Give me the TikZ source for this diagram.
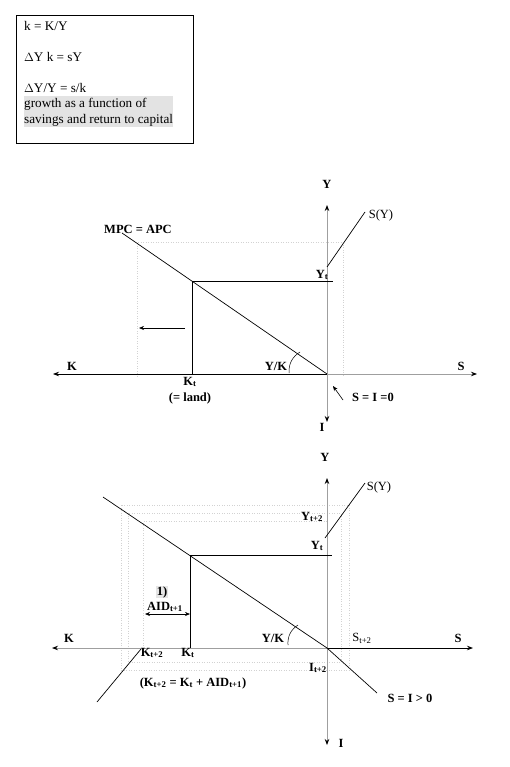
\documentclass[tikz,border=0pt]{standalone}
\usepackage{fontspec}
\setmainfont{Liberation Serif}
\usetikzlibrary{positioning, arrows.meta, calc}
\newcommand{\lowidx}[1]{\textsubscript{#1}}
\tikzset{
  % Note box at the top left
  notebox/.style={draw, line width=0.9pt, minimum width=177pt, minimum height=128pt, inner sep=0pt},
  notetext/.style={anchor=west, inner sep=0pt, font=\fontsize{13.2}{15}\selectfont},
  % Axes (black or grey shaft, black tip)
  axisblk/.style={draw=black, line width=0.8pt, -{Stealth[length=6pt, width=4.5pt, color=black]}},
  axisgry/.style={draw=gray!75, line width=0.8pt, -{Stealth[length=6pt, width=4.5pt, color=black]}},
  % Economic curves and projection lines
  econ/.style={draw=black, line width=0.7pt},
  guide/.style={draw=gray!35, dotted, line width=0.5pt},
  % Small arrows
  shiftarr/.style={draw=black, line width=0.6pt, -{Stealth[length=5pt, width=4pt]}},
  % Labels
  lbl/.style={inner sep=0pt, font=\fontsize{12.5}{14}\selectfont\bfseries},
  lblr/.style={inner sep=0pt, font=\fontsize{12.5}{14}\selectfont}
}

\begin{document}
\begin{tikzpicture}[x=1pt, y=-1pt]
\useasboundingbox (0,0) rectangle (510,767);

% ============================================================
% NOTE BOX
% ============================================================
\fill[gray!22] (24,96) rectangle (173,127);
\node[notebox] (note) at (104.5,79) {};
\node[notetext] (eq1) at (24,26) {k = K/Y};
\node[notetext] (eq2) at (24,57) {$\Delta$Y k = sY};
\node[notetext] (eq3) at (24,88) {$\Delta$Y/Y = s/k};
\node[notetext] (eq4) at (24,104) {growth as a function of};
\node[notetext] (eq5) at (24,120) {savings and return to capital};

% ============================================================
% DIAGRAM 1 -- S = I = 0
% ============================================================
\coordinate (o1) at (327,374);
\coordinate (k1) at (53,374);
\coordinate (s1) at (477,374);
\coordinate (y1) at (327,205);
\coordinate (i1) at (327,422);

% dotted projection box
\coordinate (g1a) at (137,376);
\coordinate (g1b) at (343,242);
\draw[guide] (g1a) |- (g1b) -- (g1b |- g1a);

\draw[axisblk] (o1) -- (k1);
\draw[axisgry] (o1) -- (s1);
\draw[axisgry] (o1) -- (y1);
\draw[axisgry] (o1) -- (i1);

% MPC = APC line and capital stock
\coordinate (mpc1) at (122,233);
\draw[econ] (mpc1) -- (o1);
\coordinate (c1) at ($(mpc1)!0.341!(o1)$);
\coordinate (ytend1) at (333,0);
\draw[econ] (c1 |- o1) -- (c1) -- (c1 -| ytend1);

% savings function
\coordinate (sy1a) at (327,267);
\coordinate (sy1b) at (365,212);
\draw[econ] (sy1a) -- (sy1b);

% shift of capital
\coordinate (sh1a) at (185,328);
\coordinate (sh1b) at (139,328);
\draw[shiftarr] (sh1a) -- (sh1b);

% angle Y/K
\coordinate (arc1a) at (289,373);
\coordinate (arc1b) at (300,352);
\draw[line width=0.5pt] (arc1a) to[bend left=30] (arc1b);

% pointer to origin
\coordinate (sp1a) at (343,400);
\coordinate (sp1b) at (333,386);
\draw[shiftarr] (sp1a) -- (sp1b);

\node[lbl] (ylab1) at (327,184) {Y};
\node[lbl] (klab1) at (72,366) {K};
\node[lbl] (slab1) at (461,366) {S};
\node[lbl] (ilab1) at (322,427) {I};
\node[lbl] (mpclab1) at (138,229) {MPC = APC};
\node[lbl] (ytlab1) at (322,275) {Y\lowidx{t}};
\node[lblr] (sylab1) at (381,215) {S(Y)};
\node[lbl] (yklab1) at (276,366) {Y/K};
\node[lbl] (ktlab1) at (190,382) {K\lowidx{t}};
\node[lbl] (landlab1) at (190,398) {(= land)};
\node[lbl] (szlab1) at (373,397) {S = I =0};

% ============================================================
% DIAGRAM 2 -- S = I > 0
% ============================================================
\coordinate (o2) at (327,648);
\coordinate (k2) at (52,648);
\coordinate (s2) at (473,648);
\coordinate (y2) at (327,478);
\coordinate (i2) at (327,745);

% dotted projection boxes
\coordinate (g2a) at (121,505);
\coordinate (g2b) at (349,670);
\coordinate (g2c) at (128,513);
\coordinate (g2d) at (341,662);
\coordinate (g2e) at (143,648);
\coordinate (g2f) at (327,521);
\draw[guide] (g2a) rectangle (g2b);
\draw[guide] (g2c) rectangle (g2d);
\draw[guide] (g2e) |- (g2f);

\draw[axisgry] (o2) -- (k2);
\draw[axisblk] (o2) -- (s2);
\draw[axisgry] (o2) -- (y2);
\draw[axisgry] (o2) -- (i2);

% MPC line, S = I line and capital stock
\coordinate (mpc2) at (103,497);
\draw[econ] (mpc2) -- (o2);
\coordinate (si2) at (377,693);
\draw[econ] (o2) -- (si2);
\coordinate (c2) at ($(mpc2)!0.388!(o2)$);
\coordinate (ytend2) at (332,0);
\draw[econ] (c2 |- o2) -- (c2) -- (c2 -| ytend2);

% savings function (upper and lower part)
\coordinate (sy2a) at (325,538);
\coordinate (sy2b) at (365,483);
\draw[econ] (sy2a) -- (sy2b);
\coordinate (sy2c) at (97,702);
\coordinate (sy2d) at (141,649);
\draw[econ] (sy2c) -- (sy2d);

% aid arrow
\coordinate (aid2a) at (145,614);
\coordinate (aid2b) at (190,614);
\draw[shiftarr, {Stealth[length=5pt, width=4pt]}-{Stealth[length=5pt, width=4pt]}] (aid2a) -- (aid2b);

% angle Y/K
\coordinate (arc2a) at (288,645);
\coordinate (arc2b) at (298,625);
\draw[line width=0.5pt] (arc2a) to[bend left=30] (arc2b);

\node[lbl] (ylab2) at (325,457) {Y};
\node[lbl] (klab2) at (69,638) {K};
\node[lbl] (slab2) at (458,638) {S};
\node[lbl] (ilab2) at (341,743) {I};
\node[lblr] (sylab2) at (379,487) {S(Y)};
\node[lbl] (yt2lab2) at (312,517) {Y\lowidx{t+2}};
\node[lbl] (ytlab2) at (317,546) {Y\lowidx{t}};
\node[lbl, fill=gray!20, inner sep=0.5pt] (steplab2) at (162,592) {1)};
\node[lbl] (aidlab2) at (165,607) {AID\lowidx{t+1}};
\node[lbl] (yklab2) at (273,638) {Y/K};
\node[lblr] (st2lab2) at (362,638) {S\lowidx{t+2}};
\node[lbl] (it2lab2) at (318,668) {I\lowidx{t+2}};
\node[lbl] (kt2lab2) at (152,653) {K\lowidx{t+2}};
\node[lbl] (ktlab2) at (188,653) {K\lowidx{t}};
\node[lbl] (eqlab2) at (193,683) {(K\lowidx{t+2} = K\lowidx{t} + AID\lowidx{t+1})};
\node[lbl] (silab2) at (410,698) {S = I > 0};

\end{tikzpicture}
\end{document}
